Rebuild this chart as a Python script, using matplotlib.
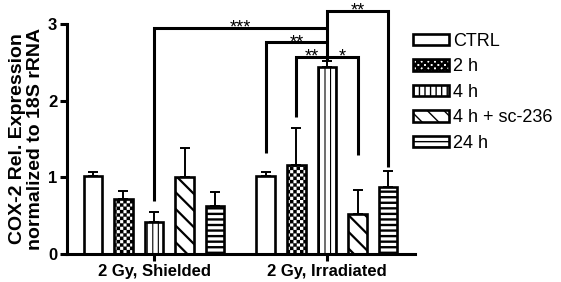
import warnings
import numpy as np
import matplotlib
matplotlib.use("Agg")
import matplotlib as mpl
import matplotlib.pyplot as plt
import matplotlib.hatch as mhatch
from matplotlib.path import Path
from matplotlib.patches import Patch

warnings.filterwarnings("ignore")

# ---------------- data ----------------
groups = ["2 Gy, Shielded", "2 Gy, Irradiated"]
conditions = ["CTRL", "2 h", "4 h", "4 h + sc-236", "24 h"]
shielded_mean = [1.02, 0.72, 0.42, 1.01, 0.62]
shielded_err = [0.05, 0.10, 0.13, 0.37, 0.19]
irradiated_mean = [1.02, 1.16, 2.44, 0.52, 0.87]
irradiated_err = [0.05, 0.48, 0.08, 0.31, 0.21]
yticks = [0, 1, 2, 3]

# significance brackets: (group_a, cond_a, leg_a_bottom, group_b, cond_b, leg_b_bottom, height, label)
brackets = [
    (0, 2, 0.69, 1, 2, None, 2.95, "***"),
    (1, 0, 1.32, 1, 2, None, 2.76, "**"),
    (1, 1, 1.79, 1, 2, None, 2.57, "**"),
    (1, 2, None, 1, 3, 1.29, 2.57, "*"),
    (1, 2, 2.52, 1, 4, 1.13, 3.17, "**"),
]


# ---------------- custom checkerboard hatch ----------------
class CheckerHatch(mhatch.HatchPatternBase):
    def __init__(self, hatch, density):
        cnt = hatch.count('c')
        self.n = int(cnt * density * 5) if cnt else 0
        if self.n % 2:
            self.n += 1
        self.num_vertices = (self.n * self.n // 2) * 5 if self.n else 0

    def set_vertices_and_codes(self, vertices, codes):
        s = 1.0 / self.n
        k = 0
        for i in range(self.n):
            for j in range(self.n):
                if (i + j) % 2 == 0:
                    x0, y0 = i * s, j * s
                    vertices[k:k + 5] = [(x0, y0), (x0 + s, y0), (x0 + s, y0 + s),
                                         (x0, y0 + s), (x0, y0)]
                    codes[k:k + 5] = [Path.MOVETO, Path.LINETO, Path.LINETO,
                                      Path.LINETO, Path.CLOSEPOLY]
                    k += 5


mhatch._hatch_types.append(CheckerHatch)

plt.rcParams['font.family'] = ['Liberation Sans', 'DejaVu Sans']

fig = plt.figure(figsize=(5.61, 2.82), dpi=100)
ax = fig.add_axes([67 / 561, 1 - 254 / 282, (415 - 67) / 561, (254 - 24) / 282])

hatches = ['', 'c', '|||', '\\\\', '---']
hatch_lw = [1.0, 0.15, 0.8, 1.6, 1.7]
step = 0.177
width = 0.107
edge_lw = 1.9

handles = []
for k, cond in enumerate(conditions):
    xs = np.arange(len(groups)) + (k - 2) * step
    vals = [shielded_mean[k], irradiated_mean[k]]
    errs = [shielded_err[k], irradiated_err[k]]
    ax.errorbar(xs, vals, yerr=[np.zeros(len(vals)), errs], fmt='none',
                ecolor='black', elinewidth=1.4, capsize=3.6, capthick=1.4, zorder=1)
    with mpl.rc_context({'hatch.linewidth': hatch_lw[k]}):
        bars = ax.bar(xs, vals, width, color='white', edgecolor='black',
                      linewidth=edge_lw, hatch=hatches[k], zorder=2)
        h = Patch(facecolor='white', edgecolor='black', linewidth=edge_lw,
                  hatch=hatches[k], label=cond)
    for b in list(bars) + [h]:
        if hasattr(b, 'set_hatch_linewidth'):
            b.set_hatch_linewidth(hatch_lw[k])
    handles.append(h)

ax.set_xlim(-0.503, 1.509)
ax.set_ylim(0, 3)
ax.set_xticks(np.arange(len(groups)))
ax.set_xticklabels(groups, fontsize=12, fontweight='bold')
ax.set_yticks(yticks)
ax.set_yticklabels([str(t) for t in yticks], fontsize=12, fontweight='bold')
for s in ['top', 'right']:
    ax.spines[s].set_visible(False)
for s in ['left', 'bottom']:
    ax.spines[s].set_linewidth(2.2)
ax.tick_params(axis='both', width=2.2, length=5, direction='out', pad=2)
ax.set_ylabel("COX-2 Rel. Expression\nnormalized to 18S rRNA", fontsize=14,
              fontweight='bold', linespacing=1.05, labelpad=3)

# brackets
for ga, ca, ba, gb, cb, bb, hgt, lab in brackets:
    xa = ga + (ca - 2) * step
    xb = gb + (cb - 2) * step
    xs_l = [xa, xb]
    ys_l = [hgt, hgt]
    if ba is not None:
        xs_l = [xa] + xs_l
        ys_l = [ba] + ys_l
    if bb is not None:
        xs_l = xs_l + [xb]
        ys_l = ys_l + [bb]
    ax.plot(xs_l, ys_l, color='black', lw=2.2, clip_on=False,
            solid_capstyle='butt', solid_joinstyle='miter', zorder=3)
    ax.text((xa + xb) / 2, hgt - 0.06, lab, ha='center', va='baseline',
            fontsize=13, clip_on=False)

leg = fig.legend(handles=handles, loc='upper left',
                 bbox_to_anchor=(413 / 561, 1 - 33 / 282), frameon=False,
                 fontsize=13, handlelength=2.0, handleheight=0.6,
                 handletextpad=0.2, labelspacing=0.47, borderpad=0,
                 borderaxespad=0)

fig.savefig("out.png", dpi=100)
